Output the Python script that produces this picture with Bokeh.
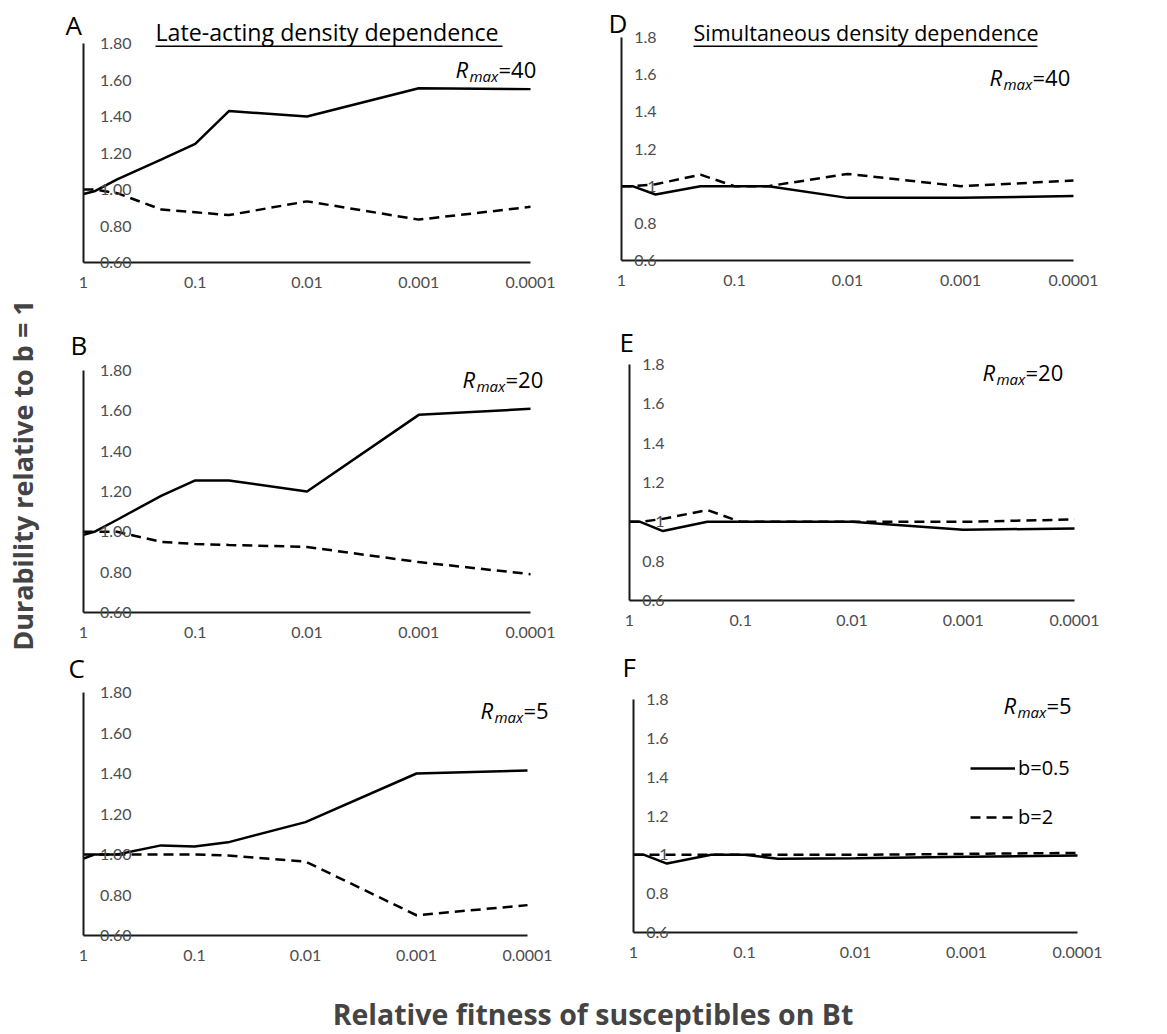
import math
from bokeh.plotting import figure
from bokeh.models import (Range1d, FixedTicker, NumeralTickFormatter, Label,
                          BoxAnnotation, Legend, LegendItem)
from bokeh.layouts import row, column
from bokeh.embed import file_html
from bokeh.resources import INLINE

# ---------------- data ----------------
fitness = [1, 0.8, 0.5, 0.2, 0.1, 0.05, 0.01, 0.001, 0.0001]
x_ticks = [1, 0.1, 0.01, 0.001, 0.0001]
y_ticks = [0.6, 0.8, 1.0, 1.2, 1.4, 1.6, 1.8]

late_r40_b05 = [0.975, 0.99, 1.055, 1.165, 1.25, 1.43, 1.40, 1.555, 1.55]
late_r40_b2 = [1.0, 1.0, 0.98, 0.89, 0.875, 0.86, 0.935, 0.835, 0.905]
late_r20_b05 = [0.985, 1.0, 1.06, 1.18, 1.255, 1.255, 1.20, 1.58, 1.61]
late_r20_b2 = [1.0, 1.0, 1.0, 0.95, 0.94, 0.935, 0.925, 0.85, 0.79]
late_r5_b05 = [0.98, 1.0, 1.0, 1.045, 1.04, 1.06, 1.16, 1.40, 1.415]
late_r5_b2 = [1.0, 1.0, 1.0, 1.0, 1.0, 0.995, 0.965, 0.70, 0.75]

sim_r40_b05 = [1.0, 1.0, 0.955, 1.0, 1.0, 1.0, 0.937, 0.937, 0.947]
sim_r40_b2 = [1.0, 1.0, 1.01, 1.062, 1.0, 1.0, 1.066, 1.0, 1.03]
sim_r20_b05 = [1.0, 1.0, 0.953, 1.0, 1.0, 1.0, 1.0, 0.96, 0.966]
sim_r20_b2 = [1.0, 1.0, 1.015, 1.06, 1.0, 1.0, 1.0, 1.0, 1.012]
sim_r5_b05 = [1.0, 1.0, 0.955, 1.0, 1.0, 0.98, 0.982, 0.99, 0.996]
sim_r5_b2 = [1.0, 1.0, 1.0, 1.0, 1.0, 1.0, 1.0, 1.005, 1.01]

TICK_FONT = "Lato"
TEXT_FONT = "Open Sans"
GREY = "#4d4d4d"


def panel(fig_box, axes_px, letter, letter_pos, b05, b2, rmax, r_pos,
          fmt, ystand, title=None, title_pos=None, title_size=22,
          legend=False):
    # fig_box: figure extent on page (x0, y0, x1, y1)
    # axes_px: page x of fitness 1, page x of 1e-4, page y of 1.8, page y of 0.6
    x0, y0, x1, y1 = fig_box
    fl, ft, fr, fb = x0 + 10 + (5 if x0 > 100 else 0), y0 + 2, x1 - 6, y1 - 1
    ax1, ax4, ytop, ybot = axes_px
    dec = (ax4 - ax1) / 4.0
    upp = 1.2 / (ybot - ytop)

    def dx(px):
        return 10 ** (-(px - ax1) / dec)

    def dy(py):
        return 0.6 + (ybot - py) * upp

    p = figure(width=x1 - x0, height=y1 - y0, output_backend="svg",
               toolbar_location=None, x_axis_type="log",
               x_range=Range1d(dx(fl), dx(fr)), y_range=Range1d(dy(fb), dy(ft)),
               min_border_left=fl - x0, min_border_right=x1 - fr,
               min_border_top=ft - y0, min_border_bottom=y1 - fb)
    p.outline_line_color = None
    p.grid.visible = False
    p.background_fill_color = "white"
    p.border_fill_color = "white"
    for ax in (p.xaxis[0], p.yaxis[0]):
        ax.axis_line_color = "#1a1a1a"
        ax.axis_line_width = 2
        ax.major_tick_line_color = None
        ax.minor_tick_line_color = None
        ax.major_tick_out = 0
        ax.major_tick_in = 0
        ax.major_label_text_font = TICK_FONT
        ax.major_label_text_font_size = "16px"
        ax.major_label_text_color = GREY
    p.xaxis.ticker = FixedTicker(ticks=x_ticks)
    p.xaxis.formatter = NumeralTickFormatter(format="0.[0000]")
    p.xaxis.major_label_standoff = 14
    p.xaxis.bounds = (0.0001, 1)
    p.xaxis.fixed_location = 0.6
    p.yaxis.ticker = FixedTicker(ticks=y_ticks)
    p.yaxis.formatter = NumeralTickFormatter(format=fmt)
    p.yaxis.major_label_standoff = ystand
    p.yaxis.fixed_location = 1
    p.yaxis.bounds = (0.6, 1.8)

    r1 = p.line(fitness, b05, line_color="black", line_width=2.5)
    r2 = p.line(fitness, b2, line_color="black", line_width=2.5,
                line_dash="10 6")

    def text(px, py, t, size, style="normal"):
        # baseline correction for the alphabetic baseline of the text box
        p.add_layout(Label(x=dx(px), y=dy(py - 0.4 * size), text=t,
                           text_font=TEXT_FONT, text_font_size=f"{size}px",
                           text_font_style=style, text_align="left",
                           text_baseline="alphabetic", text_color="black"))

    text(letter_pos[0], letter_pos[1], letter, 26)
    rx, ry = r_pos
    text(rx, ry, "R", 22, "italic")
    text(rx + 14, ry + 4, "max", 15, "italic")
    text(rx + 43, ry, "=" + rmax, 22)
    if title:
        tx0, tx1, ty = title_pos
        text(tx0, ty, title, title_size)
        p.add_layout(BoxAnnotation(left=dx(tx0), right=dx(tx1),
                                   bottom=dy(ty + 5.5), top=dy(ty + 4),
                                   fill_color="black", fill_alpha=1,
                                   line_color=None))
    if legend:
        lg = Legend(items=[LegendItem(label="b=0.5", renderers=[r1]),
                           LegendItem(label="b=2", renderers=[r2])],
                    location=(970 - fl, fb - 830), glyph_width=45,
                    glyph_height=24, label_height=24, spacing=22, padding=0,
                    margin=0, label_standoff=3, border_line_color=None,
                    background_fill_alpha=0, label_text_font=TEXT_FONT,
                    label_text_font_size="20px", label_text_color="black")
        p.add_layout(lg)
    return p


pA = panel((45, 0, 580, 310), (83, 530, 43, 262), "A", (65, 35),
           late_r40_b05, late_r40_b2, "40", (455, 77), "0.00", -48,
           "Late-acting density dependence", (155, 502, 41), 23.2)
pB = panel((45, 310, 580, 648), (83, 530, 370, 612), "B", (70, 355),
           late_r20_b05, late_r20_b2, "20", (462, 387), "0.00", -48)
pC = panel((45, 648, 580, 975), (83, 527, 692, 935), "C", (68, 678),
           late_r5_b05, late_r5_b2, "5", (480, 718), "0.00", -48)
pD = panel((580, 0, 1167, 310), (621, 1073, 37, 260), "D", (608, 33),
           sim_r40_b05, sim_r40_b2, "40", (989, 85), "0.[0]", -35,
           "Simultaneous density dependence", (693, 1037, 41), 21.5)
pE = panel((580, 310, 1167, 648), (629, 1074, 364, 600), "E", (619, 352),
           sim_r20_b05, sim_r20_b2, "20", (982, 380), "0.[0]", -35)
pF = panel((580, 648, 1167, 975), (633, 1077, 699, 932), "F", (622, 677),
           sim_r5_b05, sim_r5_b2, "5", (1003, 713), "0.[0]", -35,
           legend=True)

yt = figure(width=45, height=975, output_backend="svg", toolbar_location=None,
            min_border_left=0, min_border_right=0, min_border_top=0,
            min_border_bottom=25, title="Durability relative to b = 1",
            title_location="left")
yt.title.text_font = TEXT_FONT
yt.title.text_font_style = "bold"
yt.title.text_font_size = "27px"
yt.title.align = "center"
yt.axis.visible = False
yt.grid.visible = False
yt.outline_line_color = None

xt = figure(width=1167, height=59, output_backend="svg", toolbar_location=None,
            min_border_left=45, min_border_right=27, min_border_top=57,
            min_border_bottom=0, title="Relative fitness of susceptibles on Bt")
xt.title.text_font = TEXT_FONT
xt.title.text_font_style = "bold"
xt.title.text_font_size = "28.5px"
xt.title.align = "center"
xt.title.standoff = 0
xt.axis.visible = False
xt.grid.visible = False
xt.outline_line_color = None

layout = column(row(yt, column(row(pA, pD), row(pB, pE), row(pC, pF))), xt)

with open("out.html", "w") as f:
    f.write(file_html(layout, INLINE))
